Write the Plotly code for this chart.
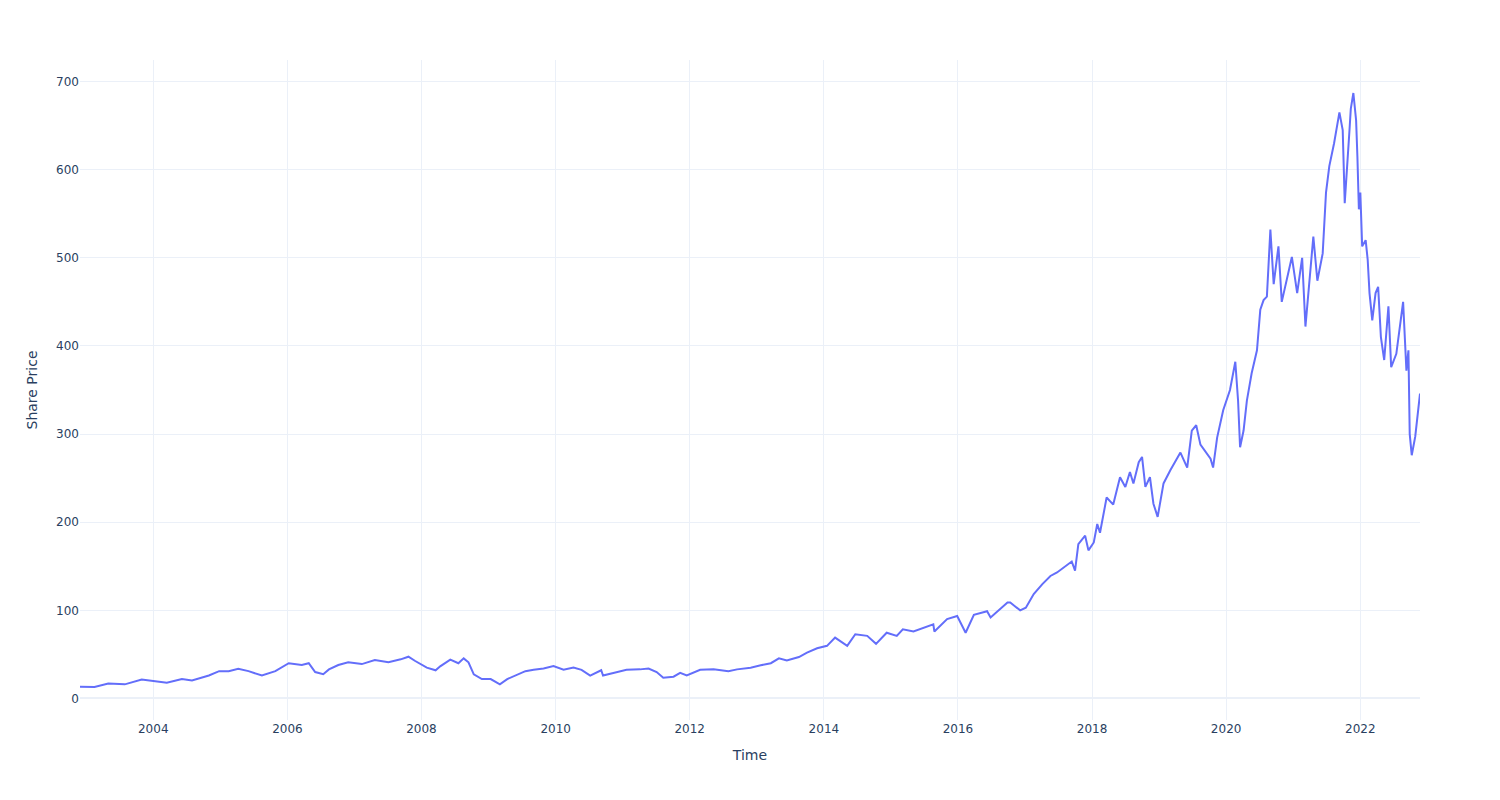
import plotly.graph_objects as go

dates = [
    "2002-11-28", "2003-02-15", "2003-05-01", "2003-07-30", "2003-10-30",
    "2004-01-02", "2004-03-15", "2004-06-05", "2004-07-30", "2004-10-30",
    "2004-12-25", "2005-02-15", "2005-04-08", "2005-06-03", "2005-08-15",
    "2005-10-27", "2006-01-08", "2006-03-20", "2006-04-27", "2006-06-01",
    "2006-07-15", "2006-08-15", "2006-10-05", "2006-11-28", "2007-02-10",
    "2007-04-22", "2007-07-05", "2007-09-10", "2007-10-22", "2007-11-28",
    "2008-01-30", "2008-03-18", "2008-04-12", "2008-06-06", "2008-07-20",
    "2008-08-18", "2008-09-13", "2008-10-12", "2008-11-25", "2009-01-12",
    "2009-03-03", "2009-04-12", "2009-06-02", "2009-07-20", "2009-09-03",
    "2009-10-27", "2009-12-20", "2010-02-13", "2010-04-08", "2010-05-22",
    "2010-07-08", "2010-09-06", "2010-09-16", "2010-11-10", "2011-01-22",
    "2011-04-05", "2011-05-22", "2011-07-05", "2011-08-10", "2011-10-05",
    "2011-11-10", "2011-12-16", "2012-02-27", "2012-05-10", "2012-06-18",
    "2012-07-30", "2012-09-15", "2012-11-28", "2013-01-22", "2013-03-18",
    "2013-05-01", "2013-06-13", "2013-08-18", "2013-10-01", "2013-11-25",
    "2014-01-18", "2014-03-03", "2014-05-08", "2014-06-21", "2014-08-25",
    "2014-10-12", "2014-12-09", "2015-02-02", "2015-03-07", "2015-05-04",
    "2015-06-28", "2015-08-20", "2015-08-26", "2015-11-03", "2015-12-28",
    "2016-02-12", "2016-03-28", "2016-06-08", "2016-06-27", "2016-08-03",
    "2016-09-27", "2016-10-12", "2016-12-05", "2017-01-05", "2017-02-17",
    "2017-04-05", "2017-05-19", "2017-06-24", "2017-07-30", "2017-09-12",
    "2017-09-30", "2017-10-18", "2017-11-24", "2017-12-12", "2018-01-10",
    "2018-01-29", "2018-02-13", "2018-03-21", "2018-04-26", "2018-06-02",
    "2018-07-01", "2018-07-26", "2018-08-14", "2018-09-12", "2018-09-30",
    "2018-10-18", "2018-11-12", "2018-12-01", "2018-12-24", "2019-01-25",
    "2019-03-03", "2019-04-27", "2019-06-03", "2019-06-28", "2019-07-22",
    "2019-08-14", "2019-10-08", "2019-10-22", "2019-11-13", "2019-12-16",
    "2020-01-22", "2020-02-20", "2020-03-06", "2020-03-17", "2020-04-05",
    "2020-04-23", "2020-05-19", "2020-06-17", "2020-07-05", "2020-07-23",
    "2020-08-10", "2020-08-29", "2020-09-16", "2020-10-12", "2020-10-30",
    "2020-11-28", "2020-12-24", "2021-01-22", "2021-02-18", "2021-03-08",
    "2021-03-28", "2021-04-20", "2021-05-12", "2021-06-10", "2021-06-28",
    "2021-07-16", "2021-08-11", "2021-09-09", "2021-09-27", "2021-10-08",
    "2021-11-03", "2021-11-10", "2021-11-24", "2021-12-09", "2021-12-16",
    "2021-12-24", "2022-01-01", "2022-01-11", "2022-01-30", "2022-02-10",
    "2022-02-20", "2022-03-07", "2022-03-25", "2022-04-08", "2022-04-23",
    "2022-05-11", "2022-06-03", "2022-06-18", "2022-07-16", "2022-08-04",
    "2022-08-22", "2022-09-09", "2022-09-20", "2022-09-27", "2022-10-08",
    "2022-10-27", "2022-11-10", "2022-11-22",
]

prices = [
    13.2, 13.0, 17.0, 16.0, 21.6,
    20.0, 17.8, 22.0, 20.5, 26.0,
    31.0, 31.0, 33.7, 31.0, 26.0,
    31.0, 40.0, 38.0, 40.0, 30.0,
    27.5, 33.0, 38.0, 41.0, 39.0,
    43.5, 41.0, 44.4, 47.4, 42.5,
    35.0, 32.0, 36.5, 44.0, 40.0,
    45.5, 41.0, 27.3, 22.0, 22.0,
    16.0, 22.0, 27.0, 31.0, 32.5,
    34.0, 36.7, 32.5, 35.0, 32.5,
    26.0, 32.0, 26.0, 28.5, 32.5,
    33.0, 34.0, 30.0, 23.5, 24.7,
    29.0, 26.0, 32.5, 33.0, 31.9,
    31.0, 33.0, 34.8, 37.6, 40.0,
    45.5, 43.0, 47.0, 52.0, 57.0,
    59.7, 69.0, 59.7, 72.8, 71.0,
    62.0, 74.6, 71.0, 78.5, 76.0,
    80.6, 84.2, 76.0, 90.0, 93.5,
    74.6, 94.8, 99.0, 92.0, 98.4,
    108.8, 108.8, 100.0, 103.0, 118.4,
    129.7, 139.0, 143.0, 148.7, 155.4,
    145.0, 175.0, 184.7, 168.0, 177.0,
    198.0, 188.0, 228.0, 220.0, 251.0,
    240.0, 257.0, 244.0, 268.0, 274.0,
    240.0, 251.0, 221.0, 206.0, 244.0,
    259.0, 279.0, 262.0, 304.0, 310.0,
    288.0, 272.0, 262.0, 296.0, 327.0,
    350.0, 382.0, 338.0, 285.0, 304.0,
    338.0, 369.0, 395.0, 441.0, 452.0,
    456.0, 532.0, 470.0, 513.0, 450.0,
    475.0, 501.0, 460.0, 500.0, 422.0,
    470.0, 524.0, 474.0, 505.0, 574.0,
    604.0, 630.0, 665.0, 645.0, 562.0,
    645.0, 669.0, 687.0, 656.0, 615.0,
    555.0, 574.0, 513.0, 520.0, 498.0,
    460.0, 429.0, 460.0, 467.0, 410.0,
    384.0, 445.0, 376.0, 391.0, 425.0,
    450.0, 372.0, 395.0, 300.0, 276.0,
    297.0, 323.0, 346.0,
]

fig = go.Figure(
    go.Scatter(x=dates, y=prices, mode="lines", line=dict(color="#636efa"))
)
fig.update_layout(
    template="plotly_white",
    width=1500,
    height=800,
    margin=dict(l=80, r=80, t=60, b=80),
    font=dict(family="DejaVu Sans"),
    xaxis_title="Time",
    yaxis_title="Share Price",
    showlegend=False,
)
fig.write_html("out.html")
